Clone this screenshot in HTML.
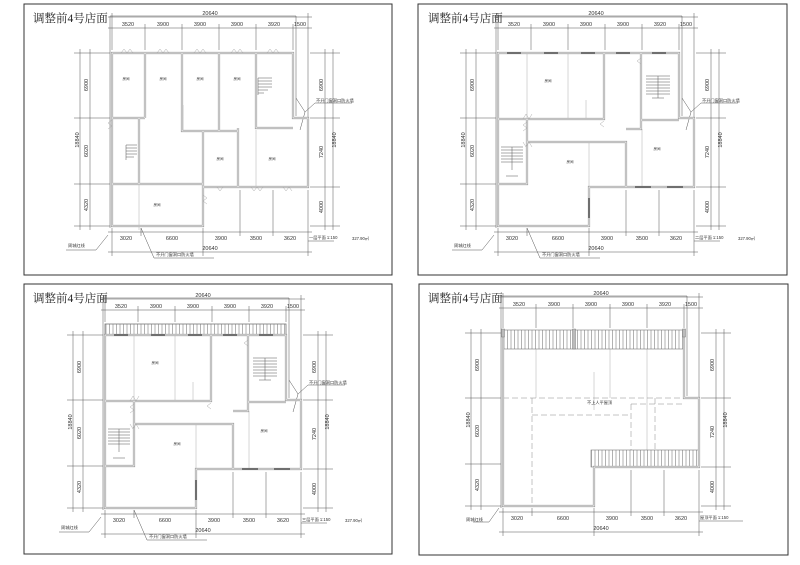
<!DOCTYPE html>
<html><head><meta charset="utf-8"><style>
html,body{margin:0;padding:0;background:#fff;}
svg{display:block;}
text{font-family:"Liberation Sans","Noto Sans CJK SC",sans-serif;fill:#333;}
.d line,.d path{stroke:#555;stroke-width:.5;fill:none;}
.ds{font-size:5.5px;}
.w1{stroke:#9a9a9a;stroke-width:2.2;fill:none;stroke-linejoin:miter;}
.w2{stroke:#fff;stroke-width:.8;fill:none;}
.g{stroke:#999;stroke-width:.4;fill:none;}
.dash{stroke:#888;stroke-width:.5;fill:none;stroke-dasharray:6 3;}
.st line{stroke:#555;stroke-width:.5;}
.tt{font-family:"Liberation Serif","Noto Serif CJK SC",serif;font-size:11.5px;font-weight:normal;fill:#222;}
.rl{font-size:3.5px;}
.wm{stroke:#444;stroke-width:1;}
</style></head><body>
<svg width="800" height="565" viewBox="0 0 800 565" xmlns="http://www.w3.org/2000/svg">
<defs>
<pattern id="h" width="3.5" height="10" patternUnits="userSpaceOnUse"><rect width="3.5" height="10" fill="#fff"/><line x1="1" y1="0" x2="1" y2="10" stroke="#666" stroke-width=".5"/></pattern>
</defs>
<rect width="800" height="565" fill="#fff"/>
<rect x="24" y="4" width="368" height="271" fill="none" stroke="#333" stroke-width="1"/>
<rect x="418" y="4" width="369" height="271" fill="none" stroke="#333" stroke-width="1"/>
<rect x="24" y="284" width="368" height="270" fill="none" stroke="#333" stroke-width="1"/>
<rect x="419" y="284" width="369" height="271" fill="none" stroke="#333" stroke-width="1"/>
<text class="tt" x="33" y="22">调整前4号店面</text>
<text class="tt" x="428" y="22">调整前4号店面</text>
<text class="tt" x="33" y="302">调整前4号店面</text>
<text class="tt" x="428" y="302">调整前4号店面</text>

<!-- ===== PANEL 1 ===== -->
<g transform="translate(0,0)">
<g class="d">
<path d="M110,228 V16 H296 V116"/>
<line x1="108" y1="17" x2="312" y2="17"/><line x1="108" y1="28" x2="312" y2="28"/>
<line x1="112" y1="13" x2="112" y2="50"/><line x1="145" y1="24" x2="145" y2="50"/><line x1="182" y1="24" x2="182" y2="50"/><line x1="219" y1="24" x2="219" y2="50"/><line x1="256" y1="24" x2="256" y2="50"/><line x1="293" y1="24" x2="293" y2="50"/><line x1="308" y1="13" x2="308" y2="118"/>
<line x1="74" y1="53" x2="110" y2="53"/><line x1="74" y1="118" x2="110" y2="118"/><line x1="74" y1="184" x2="110" y2="184"/><line x1="74" y1="226" x2="110" y2="226"/>
<line x1="80" y1="49" x2="80" y2="230"/><line x1="90" y1="49" x2="90" y2="230"/>
<line x1="310" y1="53" x2="340" y2="53"/><line x1="310" y1="118" x2="340" y2="118"/><line x1="310" y1="187" x2="340" y2="187"/><line x1="310" y1="226" x2="340" y2="226"/>
<line x1="325" y1="49" x2="325" y2="230"/><line x1="333" y1="49" x2="333" y2="230"/>
<line x1="112" y1="228" x2="112" y2="256"/><line x1="141" y1="228" x2="141" y2="236"/><line x1="203" y1="228" x2="203" y2="256"/><line x1="240" y1="190" x2="240" y2="236"/><line x1="273" y1="190" x2="273" y2="236"/><line x1="308" y1="190" x2="308" y2="256"/>
<line x1="108" y1="232" x2="312" y2="232"/><line x1="108" y1="252" x2="312" y2="252"/>
<path d="M108,235 L96,250 H66"/><path d="M141,228 L154,258 H214"/><path d="M296,98 L305,112 L315,103 H352 M305,112 L300,130"/>
<line x1="308" y1="241" x2="334" y2="241"/>
</g>
<g class="ds" text-anchor="middle">
<text x="210" y="15">20640</text>
<text x="128" y="26">3520</text><text x="163" y="26">3900</text><text x="200" y="26">3900</text><text x="237" y="26">3900</text><text x="274" y="26">3920</text><text x="300" y="26">1500</text>
<text x="126" y="240">3020</text><text x="172" y="240">6600</text><text x="221" y="240">3900</text><text x="256" y="240">3500</text><text x="290" y="240">3620</text>
<text x="210" y="250">20640</text>
<text transform="translate(79,140) rotate(-90)">18840</text>
<text transform="translate(88,85) rotate(-90)">6900</text><text transform="translate(88,151) rotate(-90)">6020</text><text transform="translate(88,205) rotate(-90)">4320</text>
<text transform="translate(323,85) rotate(-90)">6900</text><text transform="translate(323,152) rotate(-90)">7240</text><text transform="translate(323,207) rotate(-90)">4000</text>
<text transform="translate(336,140) rotate(-90)">18840</text>
</g>
<g font-size="4.2">
<text x="68" y="247">周城红线</text><text x="156" y="256">不开门窗洞口防火墙</text><text x="316" y="102">不开门窗洞口防火墙</text>
<text x="309" y="239">一层平面  1:150</text><text x="352" y="240">327.90㎡</text>
</g>
<g class="g"><line x1="139" y1="118" x2="139" y2="230"/><line x1="182" y1="53" x2="182" y2="118"/><line x1="183" y1="105" x2="183" y2="130"/><line x1="256" y1="130" x2="256" y2="187"/></g>
<path class="w1" d="M112,53 H293 V118 H308 V187 H203 V226 H112 Z M145,53 V118 M112,118 H145 M182,53 V131 H238 M219,53 V131 M256,53 V128 H293 M238,128 V187 M139,118 V184 M112,184 H203 M203,131 V226"/>
<path class="w2" d="M112,53 H293 V118 H308 V187 H203 V226 H112 Z M145,53 V118 M112,118 H145 M182,53 V131 H238 M219,53 V131 M256,53 V128 H293 M238,128 V187 M139,118 V184 M112,184 H203 M203,131 V226"/>
<g class="g" stroke="#555"><path d="M121,53 l3,-4 l3,4 l3,-4 l3,4 M157,53 l3,-4 l3,4 l3,-4 l3,4 M194,53 l3,-4 l3,4 l3,-4 l3,4 M231,53 l3,-4 l3,4 l3,-4 l3,4 M267,53 l3,-4 l3,4 l3,-4 l3,4 M217,187 l3,4 l3,-4 M251,187 l3,4 l3,-4 l3,4 l3,-4 M283,187 l3,4 l3,-4 l3,4 M203,195 l4,3 l-4,3 l4,3 M112,120 l-4,3 l4,3 l-4,3"/></g>
<g class="st"><line x1="258" y1="78" x2="272" y2="78"/><line x1="258" y1="81" x2="272" y2="81"/><line x1="258" y1="84" x2="272" y2="84"/><line x1="258" y1="87" x2="272" y2="87"/><line x1="258" y1="90" x2="268" y2="90"/><line x1="258" y1="93" x2="264" y2="93"/><line x1="258" y1="78" x2="258" y2="95"/>
<line x1="126" y1="145" x2="137" y2="145"/><line x1="126" y1="148" x2="137" y2="148"/><line x1="126" y1="151" x2="137" y2="151"/><line x1="126" y1="154" x2="137" y2="154"/><line x1="126" y1="157" x2="134" y2="157"/><line x1="126" y1="145" x2="126" y2="160"/></g>
<g class="rl" text-anchor="middle"><text x="126" y="80">房间</text><text x="163" y="80">房间</text><text x="200" y="80">房间</text><text x="237" y="80">房间</text><text x="220" y="160">房间</text><text x="272" y="160">房间</text><text x="157" y="206">房间</text></g>
</g>

<!-- ===== PANEL 2 ===== -->
<g transform="translate(386,0)">
<g class="d">
<path d="M110,228 V16 H296 V116"/>
<line x1="108" y1="17" x2="312" y2="17"/><line x1="108" y1="28" x2="312" y2="28"/>
<line x1="112" y1="13" x2="112" y2="50"/><line x1="145" y1="24" x2="145" y2="50"/><line x1="182" y1="24" x2="182" y2="50"/><line x1="219" y1="24" x2="219" y2="50"/><line x1="256" y1="24" x2="256" y2="50"/><line x1="293" y1="24" x2="293" y2="50"/><line x1="308" y1="13" x2="308" y2="118"/>
<line x1="74" y1="53" x2="110" y2="53"/><line x1="74" y1="118" x2="110" y2="118"/><line x1="74" y1="184" x2="110" y2="184"/><line x1="74" y1="226" x2="110" y2="226"/>
<line x1="80" y1="49" x2="80" y2="230"/><line x1="90" y1="49" x2="90" y2="230"/>
<line x1="310" y1="53" x2="340" y2="53"/><line x1="310" y1="118" x2="340" y2="118"/><line x1="310" y1="187" x2="340" y2="187"/><line x1="310" y1="226" x2="340" y2="226"/>
<line x1="325" y1="49" x2="325" y2="230"/><line x1="333" y1="49" x2="333" y2="230"/>
<line x1="112" y1="228" x2="112" y2="256"/><line x1="141" y1="228" x2="141" y2="236"/><line x1="203" y1="228" x2="203" y2="256"/><line x1="240" y1="190" x2="240" y2="236"/><line x1="273" y1="190" x2="273" y2="236"/><line x1="308" y1="190" x2="308" y2="256"/>
<line x1="108" y1="232" x2="312" y2="232"/><line x1="108" y1="252" x2="312" y2="252"/>
<path d="M108,235 L96,250 H66"/><path d="M141,228 L154,258 H214"/><path d="M296,98 L305,112 L315,103 H352 M305,112 L300,130"/>
<line x1="308" y1="241" x2="334" y2="241"/>
</g>
<g class="ds" text-anchor="middle">
<text x="210" y="15">20640</text>
<text x="128" y="26">3520</text><text x="163" y="26">3900</text><text x="200" y="26">3900</text><text x="237" y="26">3900</text><text x="274" y="26">3920</text><text x="300" y="26">1500</text>
<text x="126" y="240">3020</text><text x="172" y="240">6600</text><text x="221" y="240">3900</text><text x="256" y="240">3500</text><text x="290" y="240">3620</text>
<text x="210" y="250">20640</text>
<text transform="translate(79,140) rotate(-90)">18840</text>
<text transform="translate(88,85) rotate(-90)">6900</text><text transform="translate(88,151) rotate(-90)">6020</text><text transform="translate(88,205) rotate(-90)">4320</text>
<text transform="translate(323,85) rotate(-90)">6900</text><text transform="translate(323,152) rotate(-90)">7240</text><text transform="translate(323,207) rotate(-90)">4000</text>
<text transform="translate(336,140) rotate(-90)">18840</text>
</g>
<g font-size="4.2">
<text x="68" y="247">周城红线</text><text x="156" y="256">不开门窗洞口防火墙</text><text x="316" y="102">不开门窗洞口防火墙</text>
<text x="309" y="239">二层平面  1:150</text><text x="352" y="240">327.90㎡</text>
</g>
<g class="g"><line x1="141" y1="53" x2="141" y2="118"/><line x1="182" y1="53" x2="182" y2="118"/><line x1="200" y1="100" x2="200" y2="118"/><line x1="256" y1="129" x2="256" y2="187"/><line x1="203" y1="142" x2="203" y2="187"/></g>
<path class="w1" d="M112,53 H293 V118 H308 V187 H203 V226 H112 Z M112,119 H218 V53 M255,53 V120 H293 M141,119 V184 H112 M141,142 H240 V187 M240,129 H255 V120"/>
<path class="w2" d="M112,53 H293 V118 H308 V187 H203 V226 H112 Z M112,119 H218 V53 M255,53 V120 H293 M141,119 V184 H112 M141,142 H240 V187 M240,129 H255 V120"/>
<g class="wm"><line x1="121" y1="53" x2="135" y2="53"/><line x1="158" y1="53" x2="172" y2="53"/><line x1="195" y1="53" x2="209" y2="53"/><line x1="230" y1="53" x2="244" y2="53"/><line x1="266" y1="53" x2="280" y2="53"/><line x1="249" y1="187" x2="265" y2="187"/><line x1="281" y1="187" x2="297" y2="187"/><line x1="203" y1="198" x2="203" y2="218"/></g>
<g class="g" stroke="#555"><path d="M137,119 l3,-5 l3,5 l3,-5 M137,142 l3,5 l3,-5 l3,5 M141,122 l-4,3 l4,3 l-4,3 M218,121 l-4,3 l4,3 M255,58 l-4,3 l4,3"/></g>
<g class="st"><line x1="260" y1="76" x2="284" y2="76"/><line x1="260" y1="79" x2="284" y2="79"/><line x1="260" y1="82" x2="284" y2="82"/><line x1="260" y1="85" x2="284" y2="85"/><line x1="260" y1="88" x2="284" y2="88"/><line x1="260" y1="91" x2="284" y2="91"/><line x1="260" y1="94" x2="284" y2="94"/><line x1="272" y1="76" x2="272" y2="98"/><line x1="266" y1="98" x2="278" y2="98"/>
<line x1="115" y1="147" x2="137" y2="147"/><line x1="115" y1="150" x2="137" y2="150"/><line x1="115" y1="153" x2="137" y2="153"/><line x1="115" y1="156" x2="137" y2="156"/><line x1="115" y1="159" x2="137" y2="159"/><line x1="115" y1="162" x2="137" y2="162"/><line x1="126" y1="147" x2="126" y2="170"/><line x1="120" y1="176" x2="132" y2="176"/></g>
<g class="rl" text-anchor="middle"><text x="162" y="82">房间</text><text x="184" y="163">房间</text><text x="271" y="150">房间</text></g>
</g>

<!-- ===== PANEL 3 ===== -->
<g transform="translate(-7,282)">
<g class="d">
<path d="M110,228 V16 H296 V116"/>
<line x1="108" y1="17" x2="312" y2="17"/><line x1="108" y1="28" x2="312" y2="28"/>
<line x1="112" y1="13" x2="112" y2="40"/><line x1="145" y1="24" x2="145" y2="40"/><line x1="182" y1="24" x2="182" y2="40"/><line x1="219" y1="24" x2="219" y2="40"/><line x1="256" y1="24" x2="256" y2="40"/><line x1="293" y1="24" x2="293" y2="40"/><line x1="308" y1="13" x2="308" y2="118"/>
<line x1="74" y1="53" x2="110" y2="53"/><line x1="74" y1="118" x2="110" y2="118"/><line x1="74" y1="184" x2="110" y2="184"/><line x1="74" y1="226" x2="110" y2="226"/>
<line x1="80" y1="49" x2="80" y2="230"/><line x1="90" y1="49" x2="90" y2="230"/>
<line x1="310" y1="53" x2="340" y2="53"/><line x1="310" y1="118" x2="340" y2="118"/><line x1="310" y1="187" x2="340" y2="187"/><line x1="310" y1="226" x2="340" y2="226"/>
<line x1="325" y1="49" x2="325" y2="230"/><line x1="333" y1="49" x2="333" y2="230"/>
<line x1="112" y1="228" x2="112" y2="256"/><line x1="141" y1="228" x2="141" y2="236"/><line x1="203" y1="228" x2="203" y2="256"/><line x1="240" y1="190" x2="240" y2="236"/><line x1="273" y1="190" x2="273" y2="236"/><line x1="308" y1="190" x2="308" y2="256"/>
<line x1="108" y1="232" x2="312" y2="232"/><line x1="108" y1="252" x2="312" y2="252"/>
<path d="M108,235 L96,250 H66"/><path d="M141,228 L154,258 H214"/><path d="M296,98 L305,112 L315,103 H352 M305,112 L300,130"/>
<line x1="308" y1="241" x2="334" y2="241"/>
</g>
<g class="ds" text-anchor="middle">
<text x="210" y="15">20640</text>
<text x="128" y="26">3520</text><text x="163" y="26">3900</text><text x="200" y="26">3900</text><text x="237" y="26">3900</text><text x="274" y="26">3920</text><text x="300" y="26">1500</text>
<text x="126" y="240">3020</text><text x="172" y="240">6600</text><text x="221" y="240">3900</text><text x="256" y="240">3500</text><text x="290" y="240">3620</text>
<text x="210" y="250">20640</text>
<text transform="translate(79,140) rotate(-90)">18840</text>
<text transform="translate(88,85) rotate(-90)">6900</text><text transform="translate(88,151) rotate(-90)">6020</text><text transform="translate(88,205) rotate(-90)">4320</text>
<text transform="translate(323,85) rotate(-90)">6900</text><text transform="translate(323,152) rotate(-90)">7240</text><text transform="translate(323,207) rotate(-90)">4000</text>
<text transform="translate(336,140) rotate(-90)">18840</text>
</g>
<g font-size="4.2">
<text x="68" y="247">周城红线</text><text x="156" y="256">不开门窗洞口防火墙</text><text x="316" y="102">不开门窗洞口防火墙</text>
<text x="309" y="239">三层平面  1:150</text><text x="352" y="240">327.90㎡</text>
</g>
<rect x="112" y="42" width="181" height="11" fill="url(#h)" stroke="#777" stroke-width=".8"/>
<g class="g"><line x1="141" y1="53" x2="141" y2="118"/><line x1="182" y1="53" x2="182" y2="118"/><line x1="200" y1="100" x2="200" y2="118"/><line x1="256" y1="129" x2="256" y2="187"/><line x1="203" y1="142" x2="203" y2="187"/></g>
<path class="w1" d="M112,53 H293 V118 H308 V187 H203 V226 H112 Z M112,119 H218 V53 M255,53 V120 H293 M141,119 V184 H112 M141,142 H240 V187 M240,129 H255 V120"/>
<path class="w2" d="M112,53 H293 V118 H308 V187 H203 V226 H112 Z M112,119 H218 V53 M255,53 V120 H293 M141,119 V184 H112 M141,142 H240 V187 M240,129 H255 V120"/>
<g class="wm"><line x1="121" y1="53" x2="135" y2="53"/><line x1="158" y1="53" x2="172" y2="53"/><line x1="195" y1="53" x2="209" y2="53"/><line x1="230" y1="53" x2="244" y2="53"/><line x1="266" y1="53" x2="280" y2="53"/><line x1="249" y1="187" x2="265" y2="187"/><line x1="281" y1="187" x2="297" y2="187"/><line x1="203" y1="198" x2="203" y2="218"/></g>
<g class="g" stroke="#555"><path d="M137,119 l3,-5 l3,5 l3,-5 M137,142 l3,5 l3,-5 l3,5 M141,122 l-4,3 l4,3 l-4,3 M218,121 l-4,3 l4,3 M255,58 l-4,3 l4,3"/></g>
<g class="st"><line x1="260" y1="76" x2="284" y2="76"/><line x1="260" y1="79" x2="284" y2="79"/><line x1="260" y1="82" x2="284" y2="82"/><line x1="260" y1="85" x2="284" y2="85"/><line x1="260" y1="88" x2="284" y2="88"/><line x1="260" y1="91" x2="284" y2="91"/><line x1="260" y1="94" x2="284" y2="94"/><line x1="272" y1="76" x2="272" y2="98"/><line x1="266" y1="98" x2="278" y2="98"/>
<line x1="115" y1="147" x2="137" y2="147"/><line x1="115" y1="150" x2="137" y2="150"/><line x1="115" y1="153" x2="137" y2="153"/><line x1="115" y1="156" x2="137" y2="156"/><line x1="115" y1="159" x2="137" y2="159"/><line x1="115" y1="162" x2="137" y2="162"/><line x1="126" y1="147" x2="126" y2="170"/><line x1="120" y1="176" x2="132" y2="176"/></g>
<g class="rl" text-anchor="middle"><text x="162" y="82">房间</text><text x="184" y="163">房间</text><text x="271" y="150">房间</text></g>
</g>

<!-- ===== PANEL 4 ===== -->
<g transform="translate(391,280)">
<g class="d">
<path d="M110,228 V16 H296 V116"/>
<line x1="108" y1="17" x2="312" y2="17"/><line x1="108" y1="28" x2="312" y2="28"/>
<line x1="112" y1="13" x2="112" y2="48"/><line x1="145" y1="24" x2="145" y2="48"/><line x1="182" y1="24" x2="182" y2="48"/><line x1="219" y1="24" x2="219" y2="48"/><line x1="256" y1="24" x2="256" y2="48"/><line x1="293" y1="24" x2="293" y2="48"/><line x1="308" y1="13" x2="308" y2="118"/>
<line x1="74" y1="53" x2="110" y2="53"/><line x1="74" y1="118" x2="110" y2="118"/><line x1="74" y1="184" x2="110" y2="184"/><line x1="74" y1="226" x2="110" y2="226"/>
<line x1="80" y1="49" x2="80" y2="230"/><line x1="90" y1="49" x2="90" y2="230"/>
<line x1="310" y1="53" x2="340" y2="53"/><line x1="310" y1="118" x2="340" y2="118"/><line x1="310" y1="187" x2="340" y2="187"/><line x1="310" y1="226" x2="340" y2="226"/>
<line x1="325" y1="49" x2="325" y2="230"/><line x1="333" y1="49" x2="333" y2="230"/>
<line x1="112" y1="228" x2="112" y2="256"/><line x1="141" y1="228" x2="141" y2="236"/><line x1="203" y1="228" x2="203" y2="256"/><line x1="240" y1="190" x2="240" y2="236"/><line x1="273" y1="190" x2="273" y2="236"/><line x1="308" y1="190" x2="308" y2="256"/>
<line x1="108" y1="232" x2="312" y2="232"/><line x1="108" y1="252" x2="312" y2="252"/>
<path d="M108,228 L98,242 H82"/>
<line x1="308" y1="241" x2="352" y2="241"/>
</g>
<g class="ds" text-anchor="middle">
<text x="210" y="15">20640</text>
<text x="128" y="26">3520</text><text x="163" y="26">3900</text><text x="200" y="26">3900</text><text x="237" y="26">3900</text><text x="274" y="26">3920</text><text x="300" y="26">1500</text>
<text x="126" y="240">3020</text><text x="172" y="240">6600</text><text x="221" y="240">3900</text><text x="256" y="240">3500</text><text x="290" y="240">3620</text>
<text x="210" y="250">20640</text>
<text transform="translate(79,140) rotate(-90)">18840</text>
<text transform="translate(88,85) rotate(-90)">6900</text><text transform="translate(88,151) rotate(-90)">6020</text><text transform="translate(88,205) rotate(-90)">4320</text>
<text transform="translate(323,85) rotate(-90)">6900</text><text transform="translate(323,152) rotate(-90)">7240</text><text transform="translate(323,207) rotate(-90)">4000</text>
<text transform="translate(336,140) rotate(-90)">18840</text>
</g>
<g font-size="4.2">
<text x="75" y="241">周城红线</text>
<text x="309" y="239">屋顶平面  1:150</text>
<text x="196" y="124">不上人平屋顶</text>
</g>
<g class="g"><line x1="145" y1="69" x2="145" y2="118"/><line x1="219" y1="69" x2="219" y2="118"/><line x1="256" y1="69" x2="256" y2="118"/><line x1="203" y1="92" x2="203" y2="130"/><line x1="256" y1="118" x2="256" y2="170"/></g>
<path class="dash" d="M112,118 H293 M141,118 V226 M141,135 H240 M240,124 V170 M240,124 H293 M264,118 V170 M203,170 V187"/>
<rect x="112" y="50" width="181" height="19" fill="url(#h)" stroke="#777" stroke-width=".6"/>
<rect x="200" y="170" width="108" height="17" fill="url(#h)" stroke="#777" stroke-width=".6"/>
<path class="w1" d="M293,50 V118 H308 V187 H203 V226 H112 V50"/>
<path class="w2" d="M293,50 V118 H308 V187 H203 V226 H112 V50"/>
<rect x="110.5" y="49" width="3" height="8" fill="#bbb" stroke="#666" stroke-width=".4"/>
<rect x="181.5" y="49" width="3" height="20" fill="#bbb" stroke="#666" stroke-width=".4"/>
<rect x="291.5" y="49" width="3" height="8" fill="#bbb" stroke="#666" stroke-width=".4"/>
</g>
</svg>
</body></html>
